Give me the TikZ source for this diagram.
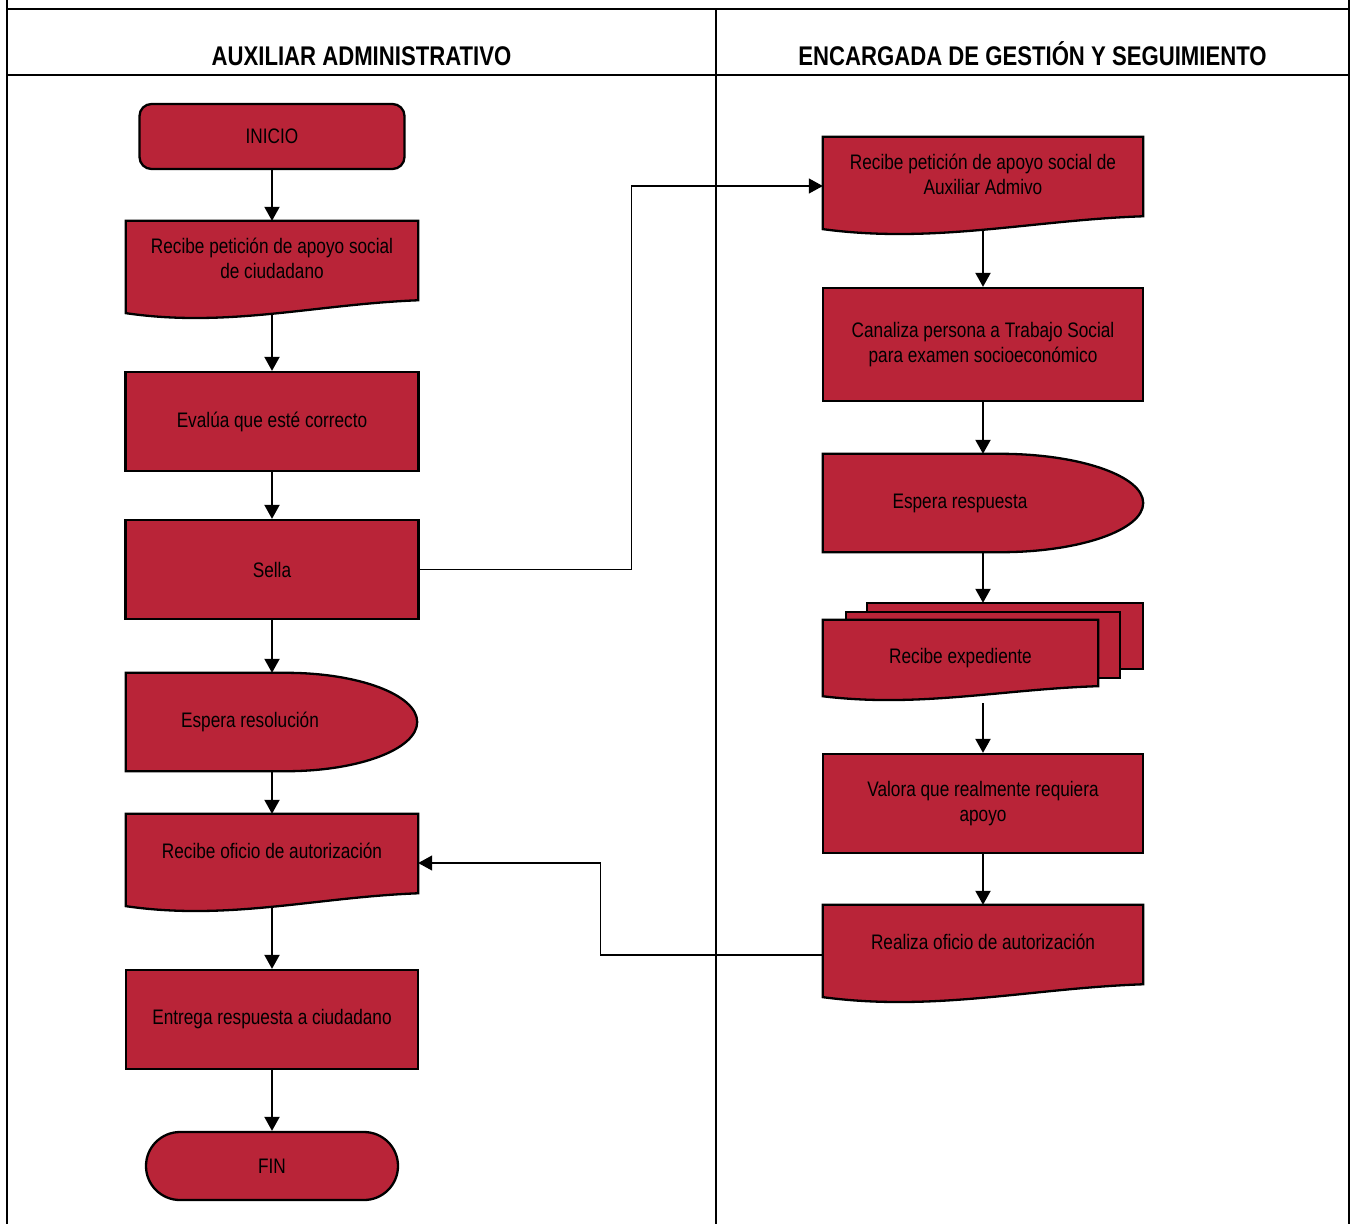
\documentclass[tikz,border=0pt]{standalone}
\usepackage{fontspec}
\setmainfont{Liberation Sans}[FakeStretch=0.82]
\usetikzlibrary{arrows.meta,calc}
\definecolor{rojoflujo}{RGB}{185,36,56}
\pgfdeclarelayer{fondo}
\pgfdeclarelayer{figuras}
\pgfsetlayers{fondo,figuras,main}
% documento con borde ondulado
\newcommand{\docborde}[2]{%
  \begin{pgfonlayer}{figuras}
  \draw[borde] (#1.north west) -- (#1.north east) -- ([yshift=-0.22*#2]#1.south east)
    .. controls ($([yshift=-0.39*#2]#1.south east)!0.35!([yshift=-0.39*#2]#1.south west)$)
    and ($([yshift=-1.43*#2]#1.south east)!0.65!([yshift=-1.43*#2]#1.south west)$)
    .. ([yshift=-0.78*#2]#1.south west) -- cycle;
  \end{pgfonlayer}}
% retardo (espera)
\newcommand{\esperaborde}[3]{%
  \begin{pgfonlayer}{figuras}
  \draw[borde] let \p1=(#1.north), \p2=(#1.south) in (#1.north west) -- ([xshift=#3-#2]#1.north east)
    arc[start angle=90,end angle=-90,x radius=#2,y radius={0.5*(\y1-\y2)}] -- (#1.south west) -- cycle;
  \end{pgfonlayer}}
\begin{document}
\begin{tikzpicture}[x=1pt,y=-1pt,font=\fontsize{21}{25}\selectfont]
\tikzstyle{borde}=[draw=black,fill=rojoflujo,line width=2.3pt]
\tikzstyle{caja}=[rectangle,borde,minimum width=293pt,minimum height=99pt,inner sep=0pt,align=center]
\tikzstyle{doc}=[rectangle,minimum width=292pt,minimum height=74pt,inner sep=0pt,align=center]
\tikzstyle{espera}=[rectangle,minimum width=248pt,minimum height=98pt,inner sep=0pt]
\tikzstyle{flecha}=[line width=2pt,-{Triangle[length=14pt,width=15pt]}]
\tikzstyle{enlace}=[line width=1.3pt,-{Triangle[length=14pt,width=15pt]}]
\tikzstyle{carril}=[line width=2.5pt]
\tikzstyle{titulo}=[font=\bfseries\fontsize{27}{32}\selectfont,anchor=base]
\useasboundingbox (0,0) rectangle (1351,1224);
% carriles
\draw[carril] (7,0) -- (7,1224);
\draw[carril] (1349,0) -- (1349,1224);
\draw[carril] (716,9) -- (716,1224);
\draw[carril] (7,9) -- (1349,9);
\draw[carril] (7,75) -- (1349,75);
\node[titulo] (aux) at (361.5,65) {AUXILIAR ADMINISTRATIVO};
\node[titulo] (enc) at (1032.5,65) {ENCARGADA DE GESTIÓN Y SEGUIMIENTO};
% auxiliar administrativo
\node[caja,minimum width=265pt,minimum height=65pt,rounded corners=12pt] (inicio) at (272,136.5) {INICIO};
\node[doc] (rpc) at (272,258) {Recibe petición de apoyo social\\de ciudadano};
\node[caja] (evalua) at (272,421.5) {Evalúa que esté correcto};
\node[caja] (sella) at (272,569.5) {Sella};
\node[espera] (espres) at (250,722) {Espera resolución};
\node[doc] (roa) at (272,851) {Recibe oficio de autorización};
\node[caja,minimum width=292pt] (entrega) at (272,1019.5) {Entrega respuesta a ciudadano};
\node[caja,minimum width=252pt,minimum height=68pt,rounded corners=34pt] (fin) at (272,1166) {FIN};
\docborde{rpc}{23pt}
\esperaborde{espres}{131pt}{43pt}
\docborde{roa}{23pt}
% encargada de gestion
\node[doc,minimum width=320pt] (rpa) at (983,174) {Recibe petición de apoyo social de\\Auxiliar Admivo};
\node[caja,minimum width=320pt,minimum height=113pt] (canaliza) at (983,344.5) {Canaliza persona a Trabajo Social\\para examen socioeconómico};
\node[espera,minimum width=274pt] (espresp) at (960,503) {Espera respuesta};
\node[doc,minimum width=275pt,minimum height=62pt,text height=29pt,text depth=5pt] (exp) at (960.5,651) {Recibe expediente};
\node[caja,minimum width=320pt] (valora) at (983,803.5) {Valora que realmente requiera\\apoyo};
\node[doc,minimum width=320pt] (realiza) at (983,942) {Realiza oficio de autorización};
\docborde{rpa}{23pt}
\esperaborde{espresp}{143pt}{46pt}
\begin{pgfonlayer}{figuras}
\draw[borde] ([xshift=44pt,yshift=17pt]exp.north west) rectangle ([xshift=45pt,yshift=13pt]exp.south east);
\draw[borde] ([xshift=23pt,yshift=8pt]exp.north west) rectangle ([xshift=22pt,yshift=4pt]exp.south east);
\end{pgfonlayer}
\docborde{exp}{18pt}
\docborde{realiza}{23pt}
\coordinate (exptope) at ([yshift=17pt]exp.north);
\coordinate (expfin) at ([yshift=-21pt]exp.south);
% conectores
\begin{pgfonlayer}{fondo}
\draw[flecha] (inicio.south) -- (rpc.north);
\draw[flecha] ([yshift=-17pt]rpc.south) -- (evalua.north);
\draw[flecha] (evalua.south) -- (sella.north);
\draw[flecha] (sella.south) -- (sella.south |- espres.north);
\draw[flecha] (espres.south -| roa.north) -- (roa.north);
\draw[flecha] ([yshift=-17pt]roa.south) -- (entrega.north);
\draw[flecha] (entrega.south) -- (fin.north);
\draw[flecha] ([yshift=-17pt]rpa.south) -- (canaliza.north);
\draw[flecha] (canaliza.south) -- (canaliza.south |- espresp.north);
\draw[flecha] (espresp.south -| canaliza.south) -- (canaliza.south |- exptope);
\draw[flecha] (expfin -| valora.north) -- (valora.north);
\draw[flecha] (valora.south) -- (realiza.north);
\draw[enlace] (sella.east) -- ++(212,0) |- ([yshift=-12pt]rpa.west);
\draw[enlace] ([yshift=-13pt]realiza.west) -- ++(-222,0) |- ([yshift=-12pt]roa.east);
\end{pgfonlayer}
\end{tikzpicture}
\end{document}
